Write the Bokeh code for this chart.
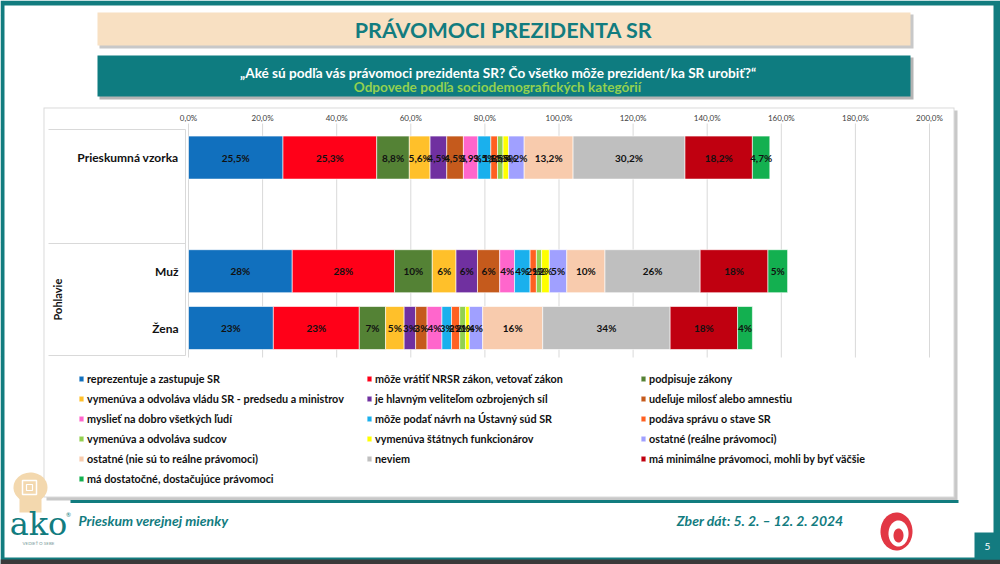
import numpy as np
from bokeh.plotting import figure
from bokeh.models import ColumnDataSource, Range1d, Legend, LegendItem
from bokeh.embed import file_html
from bokeh.resources import INLINE
from bokeh.core.properties import value

# ---------------- data ----------------
series = [
    "reprezentuje a zastupuje SR",
    "môže vrátiť NRSR zákon, vetovať zákon",
    "podpisuje zákony",
    "vymenúva a odvoláva vládu SR - predsedu a ministrov",
    "je hlavným veliteľom ozbrojených síl",
    "udeľuje milosť alebo amnestiu",
    "myslieť na dobro všetkých ľudí",
    "môže podať návrh na Ústavný súd SR",
    "podáva správu o stave SR",
    "vymenúva a odvoláva sudcov",
    "vymenúva štátnych funkcionárov",
    "ostatné (reálne právomoci)",
    "ostatné (nie sú to reálne právomoci)",
    "neviem",
    "má minimálne právomoci, mohli by byť väčšie",
    "má dostatočné, dostačujúce právomoci",
]
colors = ["#1170BE", "#FF0018", "#548235", "#FFC02A", "#7030A0", "#C55A1C",
          "#FF66CC", "#1AB0ED", "#FF6021", "#92D050", "#FFFF00", "#A0A0FF",
          "#F8CBAD", "#BFBFBF", "#C00010", "#13B050"]

categories = ["Prieskumná vzorka", "Muž", "Žena"]
group_label = "Pohlavie"

values_vzorka = [25.5, 25.3, 8.8, 5.6, 4.5, 4.5, 3.9, 3.5, 1.8, 1.5, 1.5, 4.2, 13.2, 30.2, 18.2, 4.7]
values_muz = [28.0, 27.6, 10.2, 6.4, 5.8, 6.0, 4.0, 4.2, 1.7, 1.4, 2.1, 4.7, 10.3, 25.7, 18.3, 5.3]
values_zena = [22.9, 23.2, 7.1, 5.0, 3.1, 3.1, 4.0, 2.6, 2.2, 1.6, 1.0, 3.6, 16.2, 34.4, 18.2, 4.0]

tick_values = [0, 20, 40, 60, 80, 100, 120, 140, 160, 180, 200]
tick_labels = ["0,0%", "20,0%", "40,0%", "60,0%", "80,0%", "100,0%", "120,0%",
               "140,0%", "160,0%", "180,0%", "200,0%"]

# ---------------- layout constants (pixels) ----------------
W, H = 1000, 564
X0, PX_PER_PCT = 188.0, 3.705          # 0 % position, px per percent
ROW_PX, Y_BASE_PX = 56.8, 327.5        # px per row unit, pixel of row unit 0.5
row_pos = {"Prieskumná vzorka": 3.5, "Muž": 1.5, "Žena": 0.5}  # one empty row between groups

FONT = "Lato"
TEAL = "#127C7F"

p = figure(width=W, height=H, output_backend="svg", toolbar_location=None,
           x_range=Range1d(-X0 / PX_PER_PCT, (W - X0) / PX_PER_PCT),
           y_range=Range1d(0.5 - (H - Y_BASE_PX) / ROW_PX, 0.5 + Y_BASE_PX / ROW_PX),
           x_axis_location=None, y_axis_location=None, min_border=0)
p.extra_x_ranges = {"px": Range1d(0, W)}
p.extra_y_ranges = {"px": Range1d(H, 0)}
p.outline_line_color = None
p.background_fill_color = "white"
p.border_fill_color = "white"
PX = dict(x_range_name="px", y_range_name="px")


def quad(l, r, t, b, color, alpha=1.0):
    p.quad(left=l, right=r, top=t, bottom=b, fill_color=color, fill_alpha=alpha,
           line_color=None, **PX)


def txt(x, y, s, size, color, style="normal", align="center", font=FONT, angle=0):
    p.text(x=[x], y=[y], text=[s], text_font=value(font), text_font_size=f"{size}px",
           text_color=color, text_font_style=style, text_align=align,
           text_baseline="middle", angle=angle, **PX)


def ellipse_patch(cx, cy, rx, ry, color):
    t = np.linspace(0, 2 * np.pi, 60)
    p.patch(x=cx + rx * np.cos(t), y=cy + ry * np.sin(t), fill_color=color,
            line_color=None, **PX)


# ---------------- slide background ----------------
quad(0, W, 0, H, TEAL)
quad(4, 993, 5, 557, "white")
quad(0, W, 559, H, "#3A3A3A")

# title
quad(99, 913, 14, 48, "#C8C8C8")
quad(97, 910, 12, 45, "#F8E0C2")
txt(503, 29, "PRÁVOMOCI PREZIDENTA SR", 21.5, TEAL, "bold")
# subtitle
quad(99, 913, 57, 99, "#B4B4B4")
quad(97, 910, 55, 96, "#0E7C80")
txt(498, 72, "„Aké sú podľa vás právomoci prezidenta SR? Čo všetko môže prezident/ka SR urobiť?“",
    13.6, "white", "bold")
txt(497, 86, "Odpovede podľa sociodemografických kategórií", 13.6, "#92D050", "bold")

# chart panel with shadow
quad(46, 957, 110, 500, "#C8C8C8")
quad(43, 954, 107, 497, "#DADADA")
quad(44, 953, 108, 496, "white")
# category table lines
for yy in (129, 243, 355):
    p.segment(x0=[48], x1=[185], y0=[yy], y1=[yy], line_color="#D9D9D9", line_width=1, **PX)
p.segment(x0=[185], x1=[185], y0=[129], y1=[355], line_color="#D9D9D9", line_width=1, **PX)

# gridlines (data x positions, pixel y extent)
p.segment(x0=tick_values, x1=tick_values, y0=[123] * len(tick_values), y1=[357] * len(tick_values),
          line_color="#D9D9D9", line_width=1, y_range_name="px")
# tick labels
p.text(x=tick_values, y=[117] * len(tick_values), text=tick_labels, text_font=value(FONT),
       text_font_size="8px", text_color="#404040", text_align="center",
       text_baseline="middle", y_range_name="px")

# ---------------- bars ----------------
rows = {"Prieskumná vzorka": values_vzorka, "Muž": values_muz, "Žena": values_zena}
cols = [f"s{i}" for i in range(len(series))]
data = {"y": [row_pos[c] for c in categories]}
for i, c in enumerate(cols):
    data[c] = [rows[cat][i] for cat in categories]
src = ColumnDataSource(data)
rs = p.hbar_stack(cols, y="y", height=0.757, color=colors, source=src,
                  line_color="white", line_width=0.6)

# segment labels
lx, ly, lt = [], [], []
for cat in categories:
    left = 0.0
    for v in rows[cat]:
        lx.append(left + v / 2)
        ly.append(row_pos[cat])
        if cat == "Prieskumná vzorka":
            lt.append(f"{v:.1f}".replace(".", ",") + "%")
        else:
            lt.append(f"{int(round(v))}%")
        left += v
p.text(x="x", y="y", text="t", source=ColumnDataSource(dict(x=lx, y=ly, t=lt)),
       text_align="center", text_baseline="middle", text_font=value(FONT),
       text_font_size="10px", text_font_style="bold", text_color="#111111")

# category labels
p.text(x=[178] * len(categories), y=[row_pos[c] for c in categories], text=categories,
       text_font=value(FONT), text_font_size="12px", text_font_style="bold",
       text_color="#111111", text_align="right", text_baseline="middle", x_range_name="px")
p.text(x=[57], y=[(row_pos["Muž"] + row_pos["Žena"]) / 2], text=[group_label],
       text_font=value(FONT), text_font_size="11px", text_font_style="bold",
       text_color="#111111", text_align="center", text_baseline="middle",
       angle=np.pi / 2, x_range_name="px")

# ---------------- legend (three columns) ----------------
items = [LegendItem(label=series[i], renderers=[rs[i]]) for i in range(len(series))]
col_idx = [[0, 3, 6, 9, 12, 15], [1, 4, 7, 10, 13], [2, 5, 8, 11, 14]]
col_x = [78, 366, 640]
first_row_y = 378
ITEM_H, SPACING = 14, 6
for k, idxs in enumerate(col_idx):
    n = len(idxs)
    bottom = first_row_y - ITEM_H / 2 + n * ITEM_H + (n - 1) * SPACING
    lg = Legend(items=[items[i] for i in idxs], location=(col_x[k], int(round(H - bottom))),
                orientation="vertical", padding=0, margin=0, spacing=SPACING,
                glyph_width=6, glyph_height=7, label_height=ITEM_H, label_standoff=3,
                label_text_font=FONT, label_text_font_size="10.8px",
                label_text_font_style="bold", label_text_color="#111111",
                border_line_alpha=0, background_fill_alpha=0)
    p.add_layout(lg)

# ---------------- footer ----------------
quad(70, 958, 499.5, 502.5, TEAL)
txt(78, 520, "Prieskum verejnej mienky", 14, TEAL, "bold italic", "left")
txt(843, 520, "Zber dát: 5. 2. – 12. 2. 2024", 14, TEAL, "bold italic", "right")
# AKO logo
ellipse_patch(30, 487, 17, 15, "#F3D8AE")
quad(19, 41, 495, 512, "#F3D8AE")
p.rect(x=[29], y=[487], width=[14], height=[14], fill_color=None, line_color="white",
       line_width=1.5, **PX)
p.rect(x=[29], y=[487], width=[6], height=[6], fill_color=None, line_color="white",
       line_width=1.2, **PX)
txt(38, 523, "ako", 32, TEAL, "normal", "center", "DejaVu Serif")
txt(68, 514, "®", 6, TEAL)
txt(38, 543, "VEDIEŤ O SEBE", 4.5, "#7A9A9A")
# red spiral logo
ellipse_patch(896, 531, 16, 19, "#E23744")
ellipse_patch(898, 533, 10, 13, "white")
ellipse_patch(898, 535, 5, 7, "#E23744")
# page number
quad(974, W, 532, 559, "#137B80")
txt(987, 546, "5", 10, "white")

open("out.html", "w").write(file_html(p, INLINE))
